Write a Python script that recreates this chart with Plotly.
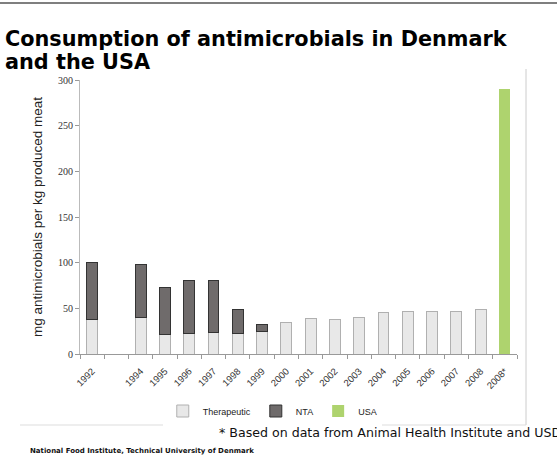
import plotly.graph_objects as go

categories = ["1992", "1993", "1994", "1995", "1996", "1997", "1998", "1999", "2000",
              "2001", "2002", "2003", "2004", "2005", "2006", "2007", "2008", "2008*"]
tick_labels = ["1992", "", "1994", "1995", "1996", "1997", "1998", "1999", "2000",
               "2001", "2002", "2003", "2004", "2005", "2006", "2007", "2008", "2008*"]
therapeutic = [38, None, 40, 21, 22, 23, 22, 25, 34, 39, 38, 40, 45, 46, 46, 47, 49, None]
nta = [62, None, 58, 52, 59, 58, 27, 7, None, None, None, None, None, None, None, None, None, None]
usa = [None] * 17 + [290]

fig = go.Figure()
fig.add_trace(go.Bar(x=categories, y=therapeutic, name="Therapeutic",
                     marker=dict(color="#e8e8e8", line=dict(color="#b0b0b0", width=1)),
                     width=0.45))
fig.add_trace(go.Bar(x=categories, y=nta, name="NTA",
                     marker=dict(color="#6f6b6b", line=dict(color="#333333", width=1)),
                     width=0.45))
fig.add_trace(go.Bar(x=categories, y=usa, name="USA",
                     marker=dict(color="#aed36e", line=dict(color="#aed36e", width=0)),
                     width=0.45))

fig.update_layout(
    width=557, height=476,
    margin=dict(l=80, r=40, t=80, b=122),
    barmode="stack",
    paper_bgcolor="white", plot_bgcolor="white",
    showlegend=True,
    legend=dict(orientation="h", traceorder="normal", x=0.44, xanchor="center",
                y=-(411 - 354) / 274, yanchor="middle",
                font=dict(family="Liberation Sans", size=9, color="#222222"),
                itemwidth=30, tracegroupgap=0),
    xaxis=dict(type="category", categoryorder="array", categoryarray=categories,
               tickmode="array", tickvals=categories, ticktext=tick_labels,
               tickangle=-45, tickson="boundaries", ticks="outside", ticklen=4,
               tickcolor="#999999", showline=True, linecolor="#999999", linewidth=1,
               tickfont=dict(family="Liberation Sans", size=9.5, color="#333333"),
               ticklabelstandoff=7,
               showgrid=False, range=[-0.5, 17.5]),
    yaxis=dict(range=[0, 300], tickvals=[0, 50, 100, 150, 200, 250, 300],
               ticks="outside", ticklen=4, tickcolor="#999999",
               showline=True, linecolor="#bbbbbb", linewidth=1, showgrid=False,
               tickfont=dict(family="Liberation Serif", size=10, color="#333333"),
               title=dict(text="mg antimicrobials per kg produced meat",
                          font=dict(family="Liberation Sans", size=13.5, color="#222222"),
                          standoff=12)),
    font=dict(family="DejaVu Sans"),
)

def px_x(p):
    return (p - 80) / 437

def px_y(p):
    return (354 - p) / 274

fig.add_annotation(text="<b>Consumption of antimicrobials in Denmark</b>",
                   xref="paper", yref="paper", x=px_x(3), y=px_y(39),
                   xanchor="left", yanchor="middle", align="left", showarrow=False,
                   font=dict(family="DejaVu Sans", size=20.8, color="black"))
fig.add_annotation(text="<b>and the USA</b>",
                   xref="paper", yref="paper", x=px_x(3), y=px_y(62),
                   xanchor="left", yanchor="middle", align="left", showarrow=False,
                   font=dict(family="DejaVu Sans", size=20.8, color="black"))
fig.add_annotation(text="* Based on data from Animal Health Institute and USDA",
                   xref="paper", yref="paper", x=px_x(217), y=px_y(432),
                   xanchor="left", yanchor="middle", showarrow=False,
                   font=dict(family="DejaVu Sans", size=12.6, color="#111111"))
fig.add_annotation(text="<b>National Food Institute, Technical University of Denmark</b>",
                   xref="paper", yref="paper", x=px_x(28), y=px_y(451),
                   xanchor="left", yanchor="middle", showarrow=False,
                   font=dict(family="DejaVu Sans", size=7, color="#111111"))

# slide decoration lines
fig.add_shape(type="line", xref="paper", yref="paper", x0=px_x(0), x1=px_x(557),
              y0=px_y(3), y1=px_y(3), line=dict(color="#555555", width=1.5))
fig.add_shape(type="line", xref="paper", yref="paper", x0=px_x(526), x1=px_x(526),
              y0=px_y(69), y1=px_y(425), line=dict(color="#cccccc", width=1))
fig.add_shape(type="line", xref="paper", yref="paper", x0=px_x(20), x1=px_x(526),
              y0=px_y(425), y1=px_y(425), line=dict(color="#dddddd", width=1))

fig.write_html("out.html")
